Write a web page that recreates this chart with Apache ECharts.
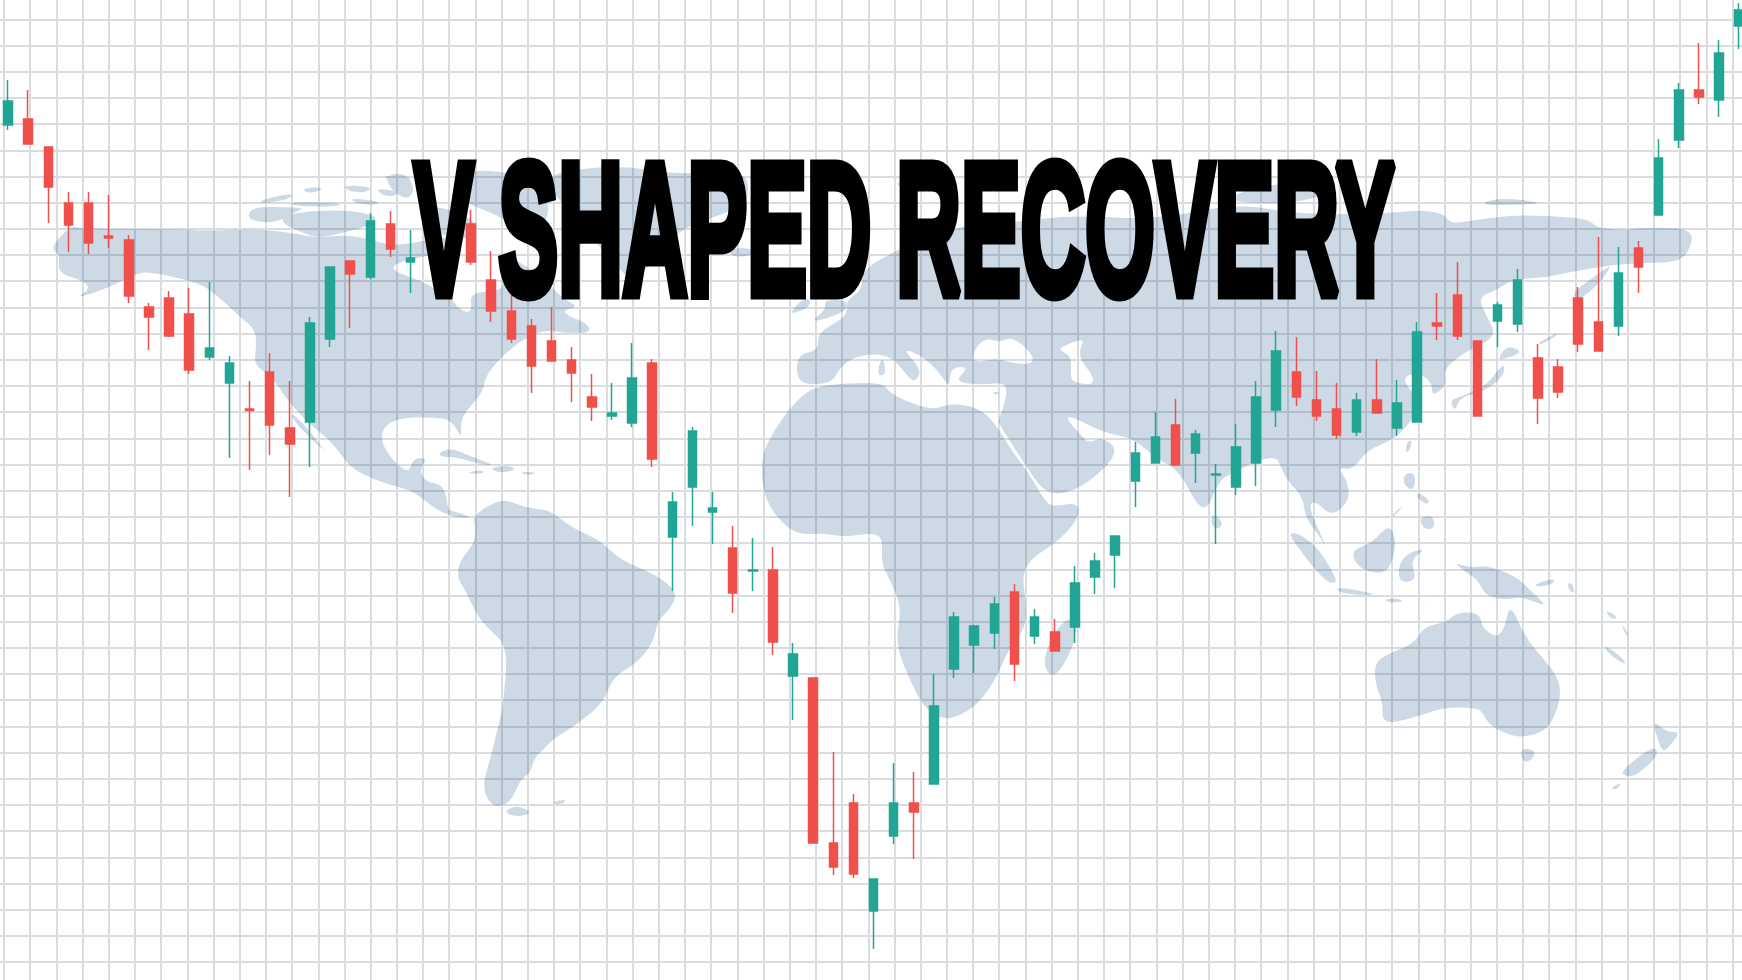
<!DOCTYPE html>
<html>
<head>
<meta charset="utf-8">
<style>html,body{margin:0;padding:0;background:#fff}#chart{width:1742px;height:980px}</style>
<script src="https://cdn.jsdelivr.net/npm/echarts@6/dist/echarts.min.js"></script>
</head>
<body>
<div id="chart"></div>
<script>
const titleText = 'V SHAPED RECOVERY';

const opens  = [855,861,833,777,777,744,740,673,682,666,623,597,571,608,552,558,641,719,703,756,718,null,null,756,700,669,654,639,620,583,564,557,617,443,493,468,432,409,410,304,302,137,177,69,144,177,196,311,335,347,388,344,348,353,403,425,499,517,555,527,505,493,517,570,608,580,571,548,580,552,558,657,685,639,659,656,622,613,682,658,654,732,765,840,890,880,954];
const closes = [879,836,793,755,737,742,684,663,644,610,632,617,569.5,555,536,657,713,706,759,731,722,null,null,718,669,641,614,619,607,573,567,602,521,478,549,472,387,410,338,326,137,113,106,101,177,168,274,363,354,376,316,363,329,397,419,444,527,543,515,546,506,533,583,629,583,564,545,580,567,577,648,654,644,564,675,700,582,588,636,629,707,713,822,890,883,927,970];
const lows   = [850,836,757,728,726,732,677,630,643,606,620,522,510,525,483,513,633,652,701,723,687,null,null,715,658,637,587,619,578,559,560,553,513,389,454,436,367,389,325,260,137,105,102,31,136,121,196,302,307,331,299,336,329,337,386,392,473,517,515,497,436,485,494,553,574,559,541,544,567,544,558,640,640,564,633,648,556,582,628,629,644,687,765,832,876,863,931];
const highs  = [900,890,833,788,788,785,745,677,689,692,698,624,599,627,599,663,713,719,767,769,750,null,null,770,729,687,661,673,633,606,597,637,621,488,553,488,454,442,433,337,302,228,186,101,217,208,306,368,355,383,396,371,361,414,427,444,538,568,581,550,516,556,599,649,643,609,597,587,621,600,658,687,718,639,678,711,636,621,693,743,733,739,841,897,937,940,977];
const categories = opens.map((_, i) => 'T' + (i + 1));

const northAmerica = [[71,225],[50,248],[60,255],[58,268],[64,275],[81,280],[91,288],[76,298],[97,292],[118,283],[138,273],[150,272],[179,278],[203,285],[220,298],[240,317],[256,330],[256,350],[254,365],[273,378],[285,397],[305,420],[326,437],[338,450],[350,467],[370,478],[391,485],[415,492],[432,507],[452,517],[473,518],[460,513],[448,510],[448,507],[444,485],[426,482],[419,470],[428,458],[413,458],[409,473],[395,463],[381,443],[383,427],[399,418],[432,417],[452,420],[462,440],[460,417],[483,393],[485,377],[501,357],[526,337],[546,330],[566,333],[591,333],[587,323],[570,317],[562,310],[579,307],[562,298],[545,280],[525,265],[505,255],[497,262],[505,285],[497,291],[478,292],[470,297],[472,310],[466,313],[455,305],[452,298],[440,292],[420,280],[395,272],[392,265],[415,258],[435,255],[455,245],[450,235],[395,247],[366,238],[342,235],[317,238],[293,233],[256,229],[203,231],[183,229],[81,229]];
const baja = [[290,412],[305,425],[324,450],[326,452],[310,438],[295,422]];
const arctic1 = [[248,213],[256,207],[285,207],[305,208],[293,213],[281,220],[268,223],[250,220]];
const arctic2 = [[281,217],[301,212],[334,210],[362,212],[379,218],[366,227],[334,235],[317,238],[301,232],[285,225]];
const arctic3 = [[260,200],[293,193],[290,199],[262,204]];
const arctic4 = [[288,202],[343,203],[335,207],[295,206]];
const arctic5 = [[303,188],[325,187],[315,193],[305,192]];
const arctic6 = [[343,185],[373,187],[365,193],[348,191]];
const arctic7 = [[350,198],[383,202],[372,205],[355,203]];
const arctic8 = [[383,175],[413,177],[405,182],[388,180]];
const arctic9 = [[377,188],[400,192],[392,197],[380,194]];
const arctic10 = [[385,175],[407,173],[415,190],[407,200],[391,190]];
const arctic11 = [[420,205],[455,210],[480,225],[470,240],[440,235],[420,222]];
const baffin = [[470,170],[510,172],[545,190],[550,215],[535,235],[515,225],[490,212],[470,205],[455,195],[460,178]];
const greenland = [[555,172],[620,165],[680,175],[745,170],[750,195],[735,210],[690,225],[670,240],[650,265],[633,282],[615,265],[590,235],[565,205],[545,185]];
const iceland = [[727,250],[745,247],[757,252],[745,257],[732,256]];
const cuba = [[438,453],[452,448],[472,457],[495,465],[483,465],[456,457],[442,457]];
const hispaniola = [[489,468],[509,465],[517,470],[499,473]];
const jamaica = [[468,472],[481,470],[485,473],[472,474]];
const puertoRico = [[521,472],[536,472],[532,475],[523,474]];
const southAmerica = [[473,518],[485,507],[502,500],[512,502],[528,508],[550,510],[572,528],[600,540],[620,560],[657,575],[677,592],[672,607],[658,620],[653,643],[637,663],[613,677],[603,703],[580,722],[563,733],[552,740],[543,750],[535,757],[530,773],[520,780],[512,800],[498,808],[487,800],[483,783],[490,760],[498,727],[503,707],[508,647],[490,630],[478,617],[465,590],[457,577],[460,560],[475,543],[475,523]];
const fuego = [[503,812],[517,805],[533,813],[517,817]];
const falklands = [[552,802],[567,799],[563,804],[555,804]];
const africa = [[794,403],[813,387],[847,383],[883,383],[890,393],[908,402],[933,410],[951,403],[979,408],[995,423],[1011,450],[1029,473],[1044,500],[1053,507],[1079,502],[1078,520],[1056,543],[1033,557],[1022,573],[1026,603],[1026,627],[1008,650],[997,677],[979,703],[961,715],[944,720],[926,710],[911,683],[895,643],[902,608],[890,580],[881,563],[883,538],[872,533],[844,537],[822,533],[797,535],[776,517],[763,493],[761,457],[774,430]];
const madagascar = [[1069,617],[1078,625],[1072,650],[1056,677],[1046,672],[1044,657],[1054,632]];
const eurasia = [[797,355],[797,380],[811,385],[833,382],[840,367],[858,355],[890,354],[908,377],[915,382],[922,370],[901,347],[926,358],[945,380],[949,387],[951,367],[969,367],[954,382],[983,385],[1008,382],[1004,407],[998,420],[1001,427],[1022,460],[1047,497],[1083,488],[1120,453],[1104,437],[1088,443],[1083,437],[1067,420],[1069,415],[1104,433],[1133,438],[1158,460],[1179,470],[1204,518],[1219,480],[1233,473],[1258,460],[1276,457],[1280,465],[1287,480],[1303,497],[1305,517],[1320,537],[1328,550],[1308,507],[1315,500],[1332,517],[1350,500],[1347,480],[1337,467],[1353,470],[1367,450],[1393,440],[1410,423],[1420,405],[1412,392],[1402,378],[1417,372],[1432,382],[1432,397],[1447,385],[1443,370],[1463,353],[1497,337],[1487,317],[1478,297],[1497,290],[1513,279],[1543,278],[1570,272],[1600,267],[1613,265],[1640,263],[1683,262],[1693,240],[1690,232],[1680,228],[1640,228],[1623,230],[1597,228],[1590,220],[1567,217],[1523,215],[1497,217],[1463,222],[1450,223],[1443,213],[1417,210],[1396,213],[1300,215],[1238,203],[1156,220],[1073,215],[1009,223],[950,227],[897,250],[862,270],[862,290],[847,300],[847,310],[844,318],[817,333],[819,350]];
const blackSea = [[972,355],[983,338],[1001,342],[1011,337],[1026,347],[1036,362],[1019,365],[997,358],[976,363]];
const caspian = [[1061,347],[1086,337],[1077,355],[1094,377],[1092,385],[1079,383],[1070,380],[1072,357],[1060,350]];
const britain = [[810,322],[826,310],[824,300],[847,300],[847,310],[829,318]];
const ireland = [[790,313],[803,298],[811,300],[808,308],[794,313]];
const novayaZemlya = [[891,183],[927,180],[956,183],[938,192],[909,188]];
const severnaya = [[1210,200],[1300,178],[1340,190],[1290,205]];
const newSiberia = [[1483,202],[1503,198],[1547,203],[1513,205],[1487,205]];
const sardinia = [[878,367],[883,357],[886,373],[879,377]];
const cyprus = [[992,392],[1001,392],[995,395]];
const sriLanka = [[1215,513],[1224,525],[1215,530],[1210,520]];
const sumatra = [[1288,533],[1298,533],[1317,547],[1330,567],[1338,583],[1328,583],[1313,567],[1300,550]];
const java = [[1337,587],[1357,590],[1377,595],[1357,595],[1338,592]];
const borneo = [[1352,550],[1372,543],[1388,525],[1395,535],[1395,553],[1387,573],[1367,572],[1355,563]];
const sulawesi = [[1398,567],[1407,553],[1427,548],[1410,560],[1417,580],[1400,583]];
const luzon = [[1405,473],[1415,473],[1415,487],[1410,490],[1403,483]];
const mindanao = [[1418,518],[1433,515],[1435,528],[1425,530]];
const visayas = [[1417,492],[1430,500],[1427,505],[1417,498]];
const palawan = [[1392,515],[1403,505],[1400,510],[1393,517]];
const taiwan = [[1407,442],[1412,440],[1410,450],[1405,453]];
const newGuinea = [[1453,562],[1470,568],[1487,565],[1517,577],[1530,590],[1548,607],[1530,600],[1520,597],[1503,600],[1485,595],[1478,580],[1467,573]];
const timor = [[1417,608],[1437,595],[1422,605]];
const flores = [[1383,600],[1395,598],[1405,601],[1392,603]];
const newBritain = [[1533,585],[1553,578],[1555,583],[1540,587]];
const solomon = [[1567,583],[1572,583],[1575,593],[1570,592]];
const vanuatu = [[1606,610],[1617,616],[1615,620],[1608,616]];
const vanuatu2 = [[1621,622],[1630,637],[1625,634]];
const caledonia = [[1606,645],[1627,662],[1622,664],[1605,650]];
const australia = [[1375,662],[1390,653],[1415,643],[1423,627],[1447,622],[1457,612],[1480,613],[1482,628],[1497,638],[1505,627],[1510,603],[1525,637],[1542,657],[1560,680],[1560,703],[1548,730],[1523,738],[1503,733],[1488,723],[1483,713],[1477,708],[1445,707],[1422,715],[1393,723],[1382,720],[1383,703],[1375,683]];
const tasmania = [[1520,748],[1536,750],[1532,760],[1523,763]];
const nzNorth = [[1652,720],[1667,732],[1680,732],[1673,742],[1663,753],[1658,740]];
const nzSouth = [[1620,772],[1647,750],[1657,748],[1657,757],[1637,775],[1627,777]];
const stewart = [[1610,788],[1622,782],[1617,790]];
const honshu = [[1450,400],[1460,397],[1487,385],[1500,367],[1505,365],[1503,377],[1483,392],[1460,397],[1455,412]];
const hokkaido = [[1507,345],[1523,352],[1507,358],[1497,360]];
const sakhalin = [[1538,343],[1558,332],[1555,337],[1540,345]];
const kurils = [[1573,293],[1580,287],[1603,270],[1612,265],[1600,283],[1577,302]];

const landShapes = [northAmerica,baja,arctic1,arctic2,arctic3,arctic4,arctic5,arctic6,arctic7,arctic8,arctic9,arctic10,arctic11,baffin,greenland,iceland,cuba,hispaniola,jamaica,puertoRico,southAmerica,fuego,falklands,africa,madagascar,britain,ireland,novayaZemlya,severnaya,newSiberia,sardinia,cyprus,sriLanka,sumatra,java,borneo,sulawesi,luzon,mindanao,visayas,palawan,taiwan,newGuinea,timor,flores,newBritain,solomon,vanuatu,vanuatu2,caledonia,australia,tasmania,nzNorth,nzSouth,stewart,honshu,hokkaido,sakhalin,kurils];
const seaHoles = [blackSea, caspian];

function area(p){let a=0;for(let i=0;i<p.length;i++){const q=p[(i+1)%p.length];a+=p[i][0]*q[1]-q[0]*p[i][1];}return a/2;}
function ringPath(p, api, wantPositive){
  const src = (area(p)>0)===wantPositive ? p : p.slice().reverse();
  const pts = src.map(c => api.coord(c));
  const n = pts.length;
  const mid = (a,b) => [(a[0]+b[0])/2,(a[1]+b[1])/2];
  const f = v => v.toFixed(1);
  const s = mid(pts[n-1], pts[0]);
  let d = 'M'+f(s[0])+' '+f(s[1]);
  for (let i=0;i<n;i++){
    const m = mid(pts[i], pts[(i+1)%n]);
    d += 'Q'+f(pts[i][0])+' '+f(pts[i][1])+' '+f(m[0])+' '+f(m[1]);
  }
  return d+'Z';
}

const candleData = opens.map((o, i) => [o, closes[i], lows[i], highs[i]]);
const chart = echarts.init(document.getElementById('chart'), null, {renderer:'canvas'});
const CELL = 26.19;
const paperLine = {show:true, lineStyle:{color:'#dadce0', width:2}};
chart.setOption({
  animation:false,
  backgroundColor:'#ffffff',
  grid:[
    {left:4-CELL, top:19.3-CELL, width:CELL*68, height:CELL*39, outerBoundsMode:'none'},
    {left:8, top:0, width:20.13*86, height:980, outerBoundsMode:'none'},
    {left:0, top:0, width:1742, height:980, outerBoundsMode:'none'}
  ],
  xAxis:[
    {gridIndex:0,type:'value',min:0,max:68,interval:1,axisLine:{show:false},axisTick:{show:false},axisLabel:{show:false},splitLine:paperLine},
    {gridIndex:1,type:'category',data:categories,boundaryGap:false,show:false},
    {gridIndex:2,type:'value',min:0,max:1742,show:false}
  ],
  yAxis:[
    {gridIndex:0,type:'value',min:0,max:39,interval:1,inverse:true,axisLine:{show:false},axisTick:{show:false},axisLabel:{show:false},splitLine:paperLine},
    {gridIndex:1,type:'value',min:0,max:980,show:false},
    {gridIndex:2,type:'value',min:0,max:980,inverse:true,show:false}
  ],
  series:[
    {
      type:'custom', name:'World map', xAxisIndex:2, yAxisIndex:2, z:1, silent:true,
      blendMode:'multiply', clip:false,
      data:[[0,0]],
      renderItem:function(params, api){
        let d = landShapes.map(s => ringPath(s, api, true)).join('');
        d += ringPath(eurasia, api, true) + seaHoles.map(s => ringPath(s, api, false)).join('');
        return {type:'path', shape:{pathData:d}, style:{fill:'#cddae6', stroke:null}};
      }
    },
    {
      type:'candlestick', name:'Price', xAxisIndex:1, yAxisIndex:1, z:3, silent:true,
      barWidth:9, clip:false,
      data:candleData,
      itemStyle:{color:'#22a595', color0:'#ef504b', borderColor:'#22a595', borderColor0:'#ef504b', borderWidth:1.5}
    }
  ],
  graphic:[{
    type:'text', z:100, silent:true,
    x:414, y:242, scaleX:0.476,
    style:{text:titleText, fontFamily:'Liberation Sans', fontWeight:'bold', fontSize:188,
      fill:'#000', stroke:'#000', lineWidth:11, textAlign:'left', textVerticalAlign:'middle'}
  }]
});
</script>
</body>
</html>
